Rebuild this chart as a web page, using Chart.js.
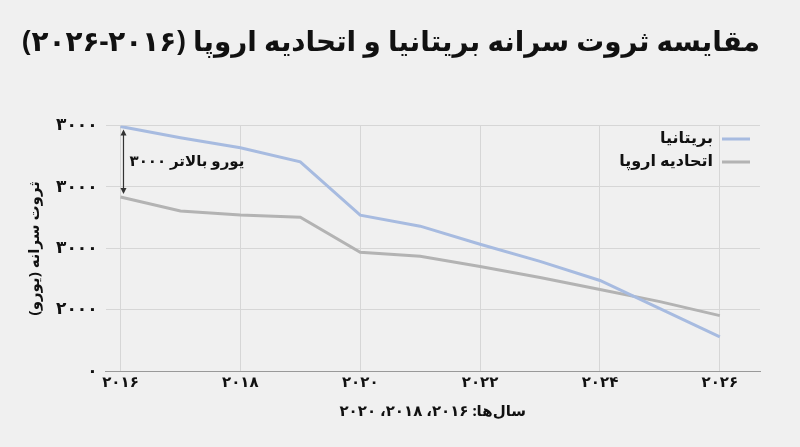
<!DOCTYPE html>
<html><head><meta charset="utf-8">
<script src="https://cdn.jsdelivr.net/npm/chart.js@4"></script>
<style>html,body{margin:0;background:#f0f0f0;}#w{width:800px;height:447px;position:relative}</style>
</head><body><div id="w"><canvas id="c"></canvas></div>
<script>
const years=[2016,2017,2018,2019,2020,2021,2022,2023,2024,2025,2026];
const uk=[3984,3803,3639,3410,2541,2361,2066,1787,1475,1016,557];
const eu=[2836,2607,2541,2508,1934,1869,1705,1525,1328,1131,902];
const yTickLabels=['۰','۲۰۰۰','۳۰۰۰','۳۰۰۰','۳۰۰۰'];
const xTickLabels={2016:'۲۰۱۶',2018:'۲۰۱۸',2020:'۲۰۲۰',2022:'۲۰۲۲',2024:'۲۰۲۴',2026:'۲۰۲۶'};
const F="'Noto Sans','DejaVu Sans',sans-serif";
const extras={id:'extras',afterDatasetsDraw(ch){
 const c=ch.ctx,x=ch.scales.x,y=ch.scales.y;
 const ax=x.getPixelForValue(2016)+3;
 const y1=y.getPixelForValue(uk[0])+5,y2=y.getPixelForValue(eu[0])-5;
 c.save();c.strokeStyle='#333';c.fillStyle='#333';c.lineWidth=1.2;
 c.beginPath();c.moveTo(ax,y1);c.lineTo(ax,y2);c.stroke();
 c.beginPath();c.moveTo(ax,y1-2);c.lineTo(ax-3,y1+4);c.lineTo(ax+3,y1+4);c.fill();
 c.beginPath();c.moveTo(ax,y2+2);c.lineTo(ax-3,y2-4);c.lineTo(ax+3,y2-4);c.fill();
 c.font='bold 15px '+F;c.fillStyle='#111';c.textAlign='left';c.textBaseline='middle';
 c.fillText('۳۰۰۰ یورو بالاتر',ax+6,(y1+y2)/2);
 const items=[['بریتانیا','#a7bbe0',138],['اتحادیه اروپا','#b3b3b3',161]];
 c.font='bold 16px '+F;c.textAlign='right';
 items.forEach(([t,col,yy])=>{c.fillStyle='#111';c.fillText(t,713,yy);c.strokeStyle=col;c.lineWidth=3;c.beginPath();c.moveTo(722,yy+1);c.lineTo(750,yy+1);c.stroke();});
 c.restore();}};
new Chart(document.getElementById('c'),{type:'line',
 data:{datasets:[
  {data:years.map((v,i)=>({x:v,y:uk[i]})),borderColor:'#a7bbe0',borderWidth:3,pointRadius:0,tension:0},
  {data:years.map((v,i)=>({x:v,y:eu[i]})),borderColor:'#b3b3b3',borderWidth:3,pointRadius:0,tension:0}]},
 options:{responsive:true,maintainAspectRatio:false,animation:false,
  layout:{padding:{left:22,right:40,top:10,bottom:22}},
  plugins:{legend:{display:false},tooltip:{enabled:false},
   title:{display:true,text:'مقایسه ثروت سرانه بریتانیا و اتحادیه اروپا (۲۰۱۶-۲۰۲۶)',font:{family:F,size:28,weight:'bold'},color:'#111',padding:{top:16,bottom:66}}},
  scales:{
   x:{type:'linear',min:2015.75,max:2026.67,afterBuildTicks(a){a.ticks=[2016,2018,2020,2022,2024,2026].map(v=>({value:v}));},
    ticks:{callback:v=>xTickLabels[v]||'',font:{family:F,size:15,weight:'bold'},color:'#111'},
    grid:{color:'#d6d6d6',drawTicks:false},border:{color:'#999'},
    title:{display:true,text:'سال‌ها: ۲۰۱۶، ۲۰۱۸، ۲۰۲۰',font:{family:F,size:15,weight:'bold'},color:'#111',padding:{top:8}}},
   y:{min:0,max:4000,ticks:{stepSize:1000,callback:(v)=>yTickLabels[v/1000],font:{family:F,size:17,weight:'bold'},color:'#111',padding:8},
    grid:{color:'#d6d6d6',drawTicks:false},border:{display:false},
    title:{display:true,text:'ثروت سرانه (یورو)',font:{family:F,size:15,weight:'bold'},color:'#111'}}}},
 plugins:[extras]});
</script></body></html>
